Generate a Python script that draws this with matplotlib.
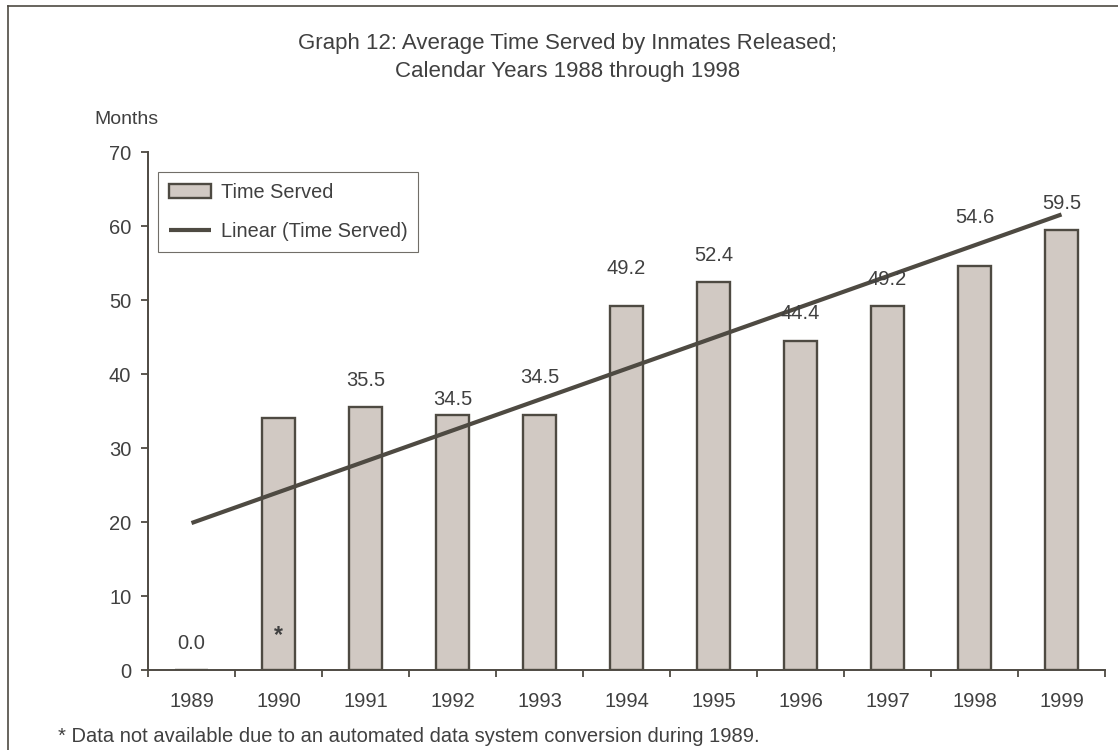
import numpy as np
import matplotlib
matplotlib.use("Agg")
import matplotlib.pyplot as plt
from matplotlib.lines import Line2D

plt.rcParams['font.family'] = ['Liberation Sans', 'DejaVu Sans']

# データ
years = ['1989', '1990', '1991', '1992', '1993', '1994', '1995', '1996', '1997', '1998', '1999']
time_served = [0.0, 34.0, 35.5, 34.5, 34.5, 49.2, 52.4, 44.4, 49.2, 54.6, 59.5]
value_labels = ['0.0', '', '35.5', '34.5', '34.5', '49.2', '52.4', '44.4', '49.2', '54.6', '59.5']
# ラベルの上方向オフセット (pt) ※元図で手動配置されている
label_offsets = [19, 0, 19, 11, 27, 27, 19, 20, 19, 35, 19]

title_lines = ['Graph 12: Average Time Served by Inmates Released;',
               'Calendar Years 1988 through 1998']
footnote = '* Data not available due to an automated data system conversion during 1989.'

DARK = '#4e4a42'
TEXT = '#404040'
FILL = '#d1c9c3'
FS = 14.5

fig = plt.figure(figsize=(11.18, 7.5), dpi=100)
ax = fig.add_axes([148 / 1118, 1 - 670 / 750, (1105 - 148) / 1118, (670 - 152) / 750])

x = np.arange(len(years))
bars = ax.bar(x, time_served, width=0.39, color=FILL, edgecolor=DARK, linewidth=1.7,
              label='Time Served', zorder=2)

# 線形トレンド
coef = np.polyfit(x, time_served, 1)
trend, = ax.plot([x[0], x[-1]], np.polyval(coef, [x[0], x[-1]]), color=DARK, linewidth=3,
                 solid_capstyle='butt', label='Linear (Time Served)', zorder=3)

for xi, v, lab, off in zip(x, time_served, value_labels, label_offsets):
    if not lab:
        continue
    ax.annotate(lab, (xi, v), xytext=(0, off), textcoords='offset points',
                ha='center', va='center', fontsize=FS, color=TEXT)

# 1990 のデータ欠損マーク
ax.text(1, 4.6, '*', ha='center', va='center', fontsize=FS + 2, color=TEXT,
        fontweight='bold', zorder=4)

ax.set_xlim(-0.5, len(years) - 0.5)
ax.set_ylim(0, 70)
ax.set_yticks(range(0, 71, 10))
ax.set_xticks(x)
ax.set_xticklabels(years)
ax.set_xticks(np.arange(-0.5, len(years)), minor=True)
ax.tick_params(axis='x', which='major', length=0, pad=16, labelsize=FS, labelcolor=TEXT)
ax.tick_params(axis='x', which='minor', length=5, width=1.3, color=DARK, direction='out')
ax.tick_params(axis='y', length=5, width=1.3, color=DARK, pad=7, labelsize=FS, labelcolor=TEXT)

for s in ['top', 'right']:
    ax.spines[s].set_visible(False)
for s in ['left', 'bottom']:
    ax.spines[s].set_color(DARK)
    ax.spines[s].set_linewidth(1.4)

leg = ax.legend([bars, trend], ['Time Served', 'Linear (Time Served)'],
                loc='upper left', bbox_to_anchor=(10 / 957, 1 - 20 / 518), fontsize=14.3,
                frameon=True, fancybox=False, edgecolor=DARK, handlelength=2.1,
                handletextpad=0.5, labelspacing=1.0, borderpad=0.55, borderaxespad=0,
                labelcolor=TEXT)
leg.get_frame().set_linewidth(0.8)

fig.text(126 / 1118, 1 - 119 / 750, 'Months', ha='center', va='center', fontsize=14, color=TEXT)
fig.text(568 / 1118, 1 - 43 / 750, title_lines[0], ha='center', va='center', fontsize=16, color=TEXT)
fig.text(568 / 1118, 1 - 71 / 750, title_lines[1], ha='center', va='center', fontsize=16, color=TEXT)
fig.text(58 / 1118, 1 - 737 / 750, footnote, ha='left', va='center', fontsize=FS, color=TEXT)

# 外枠 (上と左のみ見える)
fig.add_artist(Line2D([8 / 1118, 1.0], [1 - 6 / 750, 1 - 6 / 750], color=DARK, linewidth=1.2))
fig.add_artist(Line2D([8 / 1118, 8 / 1118], [0.0, 1 - 6 / 750], color=DARK, linewidth=1.2))

fig.savefig('out.png', dpi=100)
